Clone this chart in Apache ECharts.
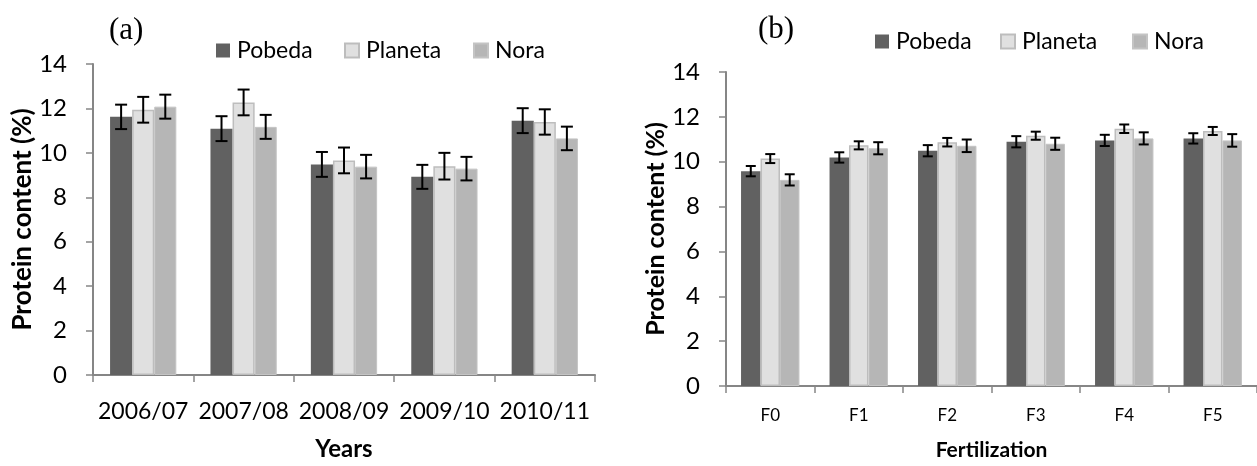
<!DOCTYPE html>
<html><head><meta charset="utf-8">
<script src="https://cdn.jsdelivr.net/npm/echarts@6/dist/echarts.min.js"></script>
<style>html,body{margin:0;padding:0;background:#fff}#c{width:1257px;height:466px}</style>
</head><body><div id="c"></div>
<script>
const seriesNames = ['Pobeda', 'Planeta', 'Nora'];
const seriesColors = ['#616161', '#e0e0e0', '#b6b6b6'];
const yTickLabels = [0, 2, 4, 6, 8, 10, 12, 14];

const yearCategories = ['2006/07', '2007/08', '2008/09', '2009/10', '2010/11'];
const yearPobeda  = [11.62, 11.09, 9.48, 8.92, 11.45];
const yearPlaneta = [11.94, 12.27, 9.66, 9.40, 11.39];
const yearNora    = [12.08, 11.17, 9.38, 9.29, 10.65];
const yearPobedaErr  = [0.55, 0.56, 0.56, 0.54, 0.56];
const yearPlanetaErr = [0.58, 0.58, 0.58, 0.60, 0.57];
const yearNoraErr    = [0.54, 0.54, 0.53, 0.53, 0.53];

const fertCategories = ['F0', 'F1', 'F2', 'F3', 'F4', 'F5'];
const fertPobeda  = [9.58, 10.19, 10.49, 10.89, 10.95, 11.04];
const fertPlaneta = [10.14, 10.73, 10.87, 11.16, 11.47, 11.37];
const fertNora    = [9.19, 10.60, 10.71, 10.80, 11.04, 10.95];
const fertPobedaErr  = [0.23, 0.23, 0.25, 0.25, 0.25, 0.23];
const fertPlanetaErr = [0.20, 0.18, 0.19, 0.18, 0.19, 0.18];
const fertNoraErr    = [0.25, 0.27, 0.28, 0.27, 0.27, 0.28];

const GAP = 0.34;
const FONT = 'Lato';

function errRender(idx, capW) {
  return function (params, api) {
    const x = api.value(0), y = api.value(1), e = api.value(2);
    const band = api.size([1, 0])[0];
    const group = band * (1 - GAP);
    const bw = group / 3;
    const off = -group / 2 + bw * (idx + 0.5);
    const top = api.coord([x, y + e]);
    const bot = api.coord([x, y - e]);
    const cx = top[0] + off;
    const style = { stroke: '#000', lineWidth: 2 };
    return { type: 'group', children: [
      { type: 'line', shape: { x1: cx, y1: top[1], x2: cx, y2: bot[1] }, style: style },
      { type: 'line', shape: { x1: cx - capW / 2, y1: top[1], x2: cx + capW / 2, y2: top[1] }, style: style },
      { type: 'line', shape: { x1: cx - capW / 2, y1: bot[1], x2: cx + capW / 2, y2: bot[1] }, style: style }
    ] };
  };
}

function barSeries(name, idx, data, gi) {
  const s = {
    name: name, type: 'bar', xAxisIndex: gi, yAxisIndex: gi, data: data,
    barGap: '0%', barCategoryGap: (GAP * 100) + '%',
    itemStyle: { color: seriesColors[idx] }, z: 2
  };
  if (idx === 1) { s.itemStyle.borderColor = '#bdbdbd'; s.itemStyle.borderWidth = 1.5; }
  if (idx === 2) { s.itemStyle.borderColor = '#c4c4c4'; s.itemStyle.borderWidth = 1; }
  return s;
}
function errSeries(name, idx, vals, errs, gi, capW) {
  return {
    name: name, type: 'custom', xAxisIndex: gi, yAxisIndex: gi, z: 5,
    renderItem: errRender(idx, capW),
    data: vals.map((v, i) => [i, v, errs[i]])
  };
}

const axisLineStyle = { color: '#868686', width: 2 };
function xAxis(gi, cats, fs, margin, name, nameGap, nameSize) {
  return {
    type: 'category', gridIndex: gi, data: cats,
    axisLine: { lineStyle: axisLineStyle },
    axisTick: { show: true, alignWithLabel: false, length: 7, lineStyle: { color: '#868686', width: 1.5 } },
    axisLabel: { fontFamily: FONT, fontSize: fs, color: '#000', margin: margin, interval: 0 },
    name: name, nameLocation: 'middle', nameGap: nameGap,
    nameTextStyle: { fontFamily: FONT, fontSize: nameSize, fontWeight: 'bold', color: '#000' }
  };
}
function yAxis(gi, nameGap, nameSize) {
  return {
    type: 'value', gridIndex: gi,
    min: yTickLabels[0], max: yTickLabels[yTickLabels.length - 1],
    interval: yTickLabels[1] - yTickLabels[0],
    splitLine: { show: false },
    axisLine: { show: true, lineStyle: axisLineStyle },
    axisTick: { show: true, length: 7, lineStyle: { color: '#868686', width: 1.5 } },
    axisLabel: { fontFamily: FONT, fontSize: 24, color: '#000', margin: 26 },
    name: 'Protein content (%)', nameLocation: 'middle', nameGap: nameGap, nameRotate: 90,
    nameTextStyle: { fontFamily: FONT, fontSize: nameSize, fontWeight: 'bold', color: '#000' }
  };
}

function legendItem(name, left, top) {
  return {
    data: [name], left: left, top: top, icon: 'rect', itemWidth: 14, itemHeight: 14,
    selectedMode: false,
    textStyle: { fontFamily: FONT, fontSize: 23, color: '#000', padding: [0, 0, 0, 2] }
  };
}

const yearVals = [yearPobeda, yearPlaneta, yearNora];
const yearErrs = [yearPobedaErr, yearPlanetaErr, yearNoraErr];
const fertVals = [fertPobeda, fertPlaneta, fertNora];
const fertErrs = [fertPobedaErr, fertPlanetaErr, fertNoraErr];

const series = [];
seriesNames.forEach((n, i) => series.push(barSeries(n, i, yearVals[i], 0)));
seriesNames.forEach((n, i) => series.push(barSeries(n, i, fertVals[i], 1)));
seriesNames.forEach((n, i) => series.push(errSeries(n, i, yearVals[i], yearErrs[i], 0, 12)));
seriesNames.forEach((n, i) => series.push(errSeries(n, i, fertVals[i], fertErrs[i], 1, 10)));

const chart = echarts.init(document.getElementById('c'), null, { renderer: 'canvas' });
chart.setOption({
  animation: false,
  backgroundColor: '#fff',
  title: [
    { text: '(a)', left: 104, top: 10, textStyle: { fontFamily: 'Liberation Serif', fontSize: 31, fontWeight: 'normal', color: '#000' } },
    { text: '(b)', left: 753, top: 9, textStyle: { fontFamily: 'Liberation Serif', fontSize: 31, fontWeight: 'normal', color: '#000' } }
  ],
  legend: [
    legendItem('Pobeda', 211, 34), legendItem('Planeta', 339, 34), legendItem('Nora', 468, 34),
    legendItem('Pobeda', 870, 25), legendItem('Planeta', 995, 25), legendItem('Nora', 1127, 25)
  ],
  grid: [
    { left: 93, top: 64, width: 502, bottom: 76 },
    { left: 726, top: 72, width: 541, bottom: 73 }
  ],
  xAxis: [
    xAxis(0, yearCategories, 23, 25, 'Years', 62, 24),
    xAxis(1, fertCategories, 17, 21, 'Fertilization', 54, 21)
  ],
  yAxis: [yAxis(0, 56, 26), yAxis(1, 56, 25)],
  series: series
});
</script>
</body></html>
